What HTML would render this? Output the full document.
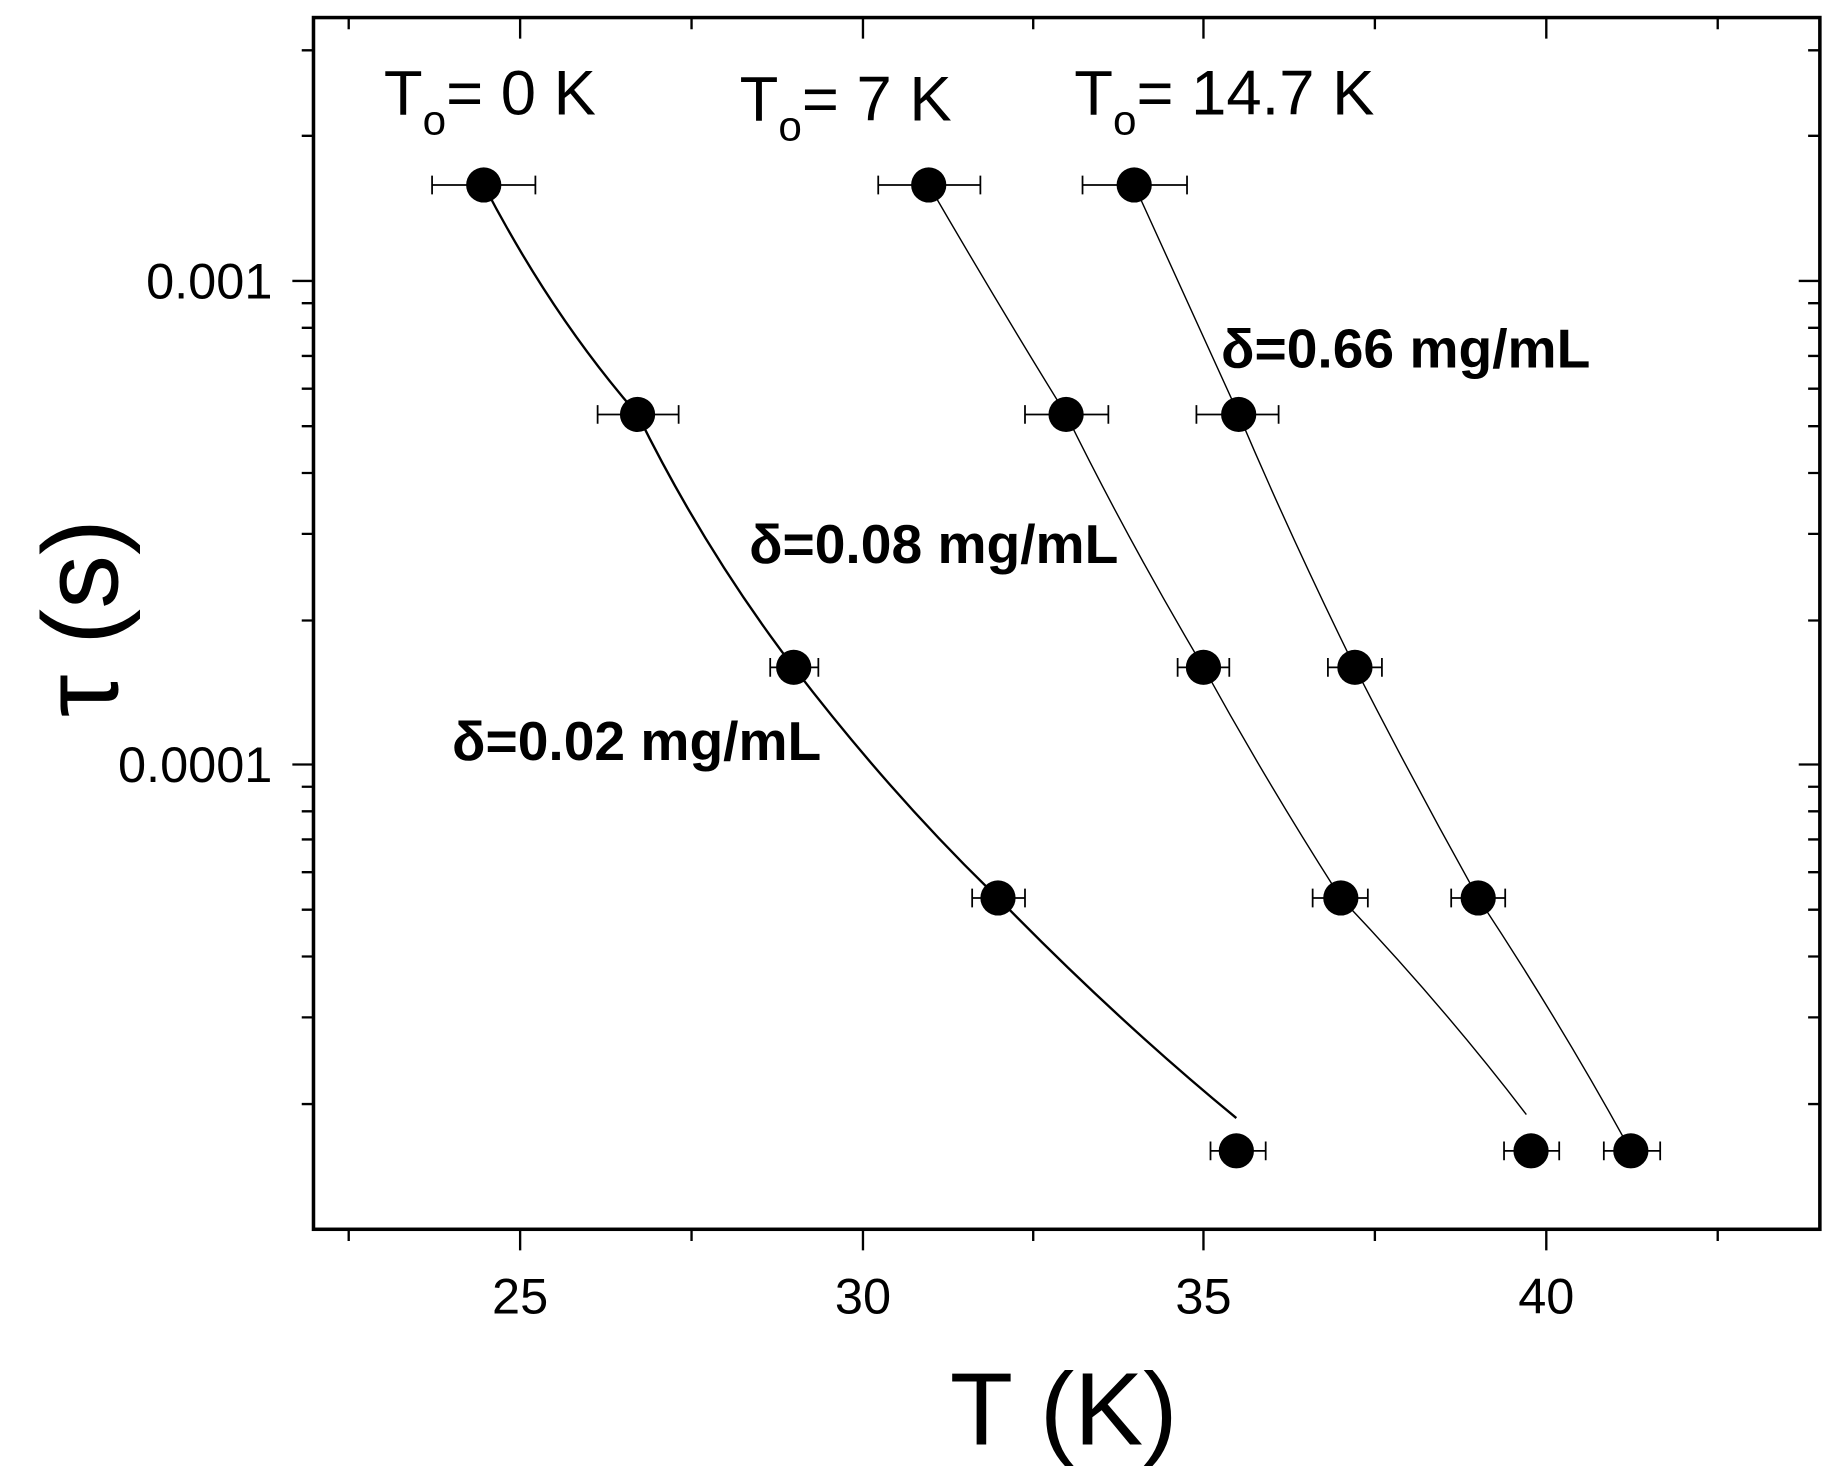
<!DOCTYPE html>
<html><head><style>html,body{margin:0;padding:0;background:#fff}svg{display:block}</style></head><body>
<svg width="1841" height="1481" viewBox="0 0 1568 1265" preserveAspectRatio="none" xmlns="http://www.w3.org/2000/svg" font-family="Liberation Sans, sans-serif">
<rect x="267" y="15" width="1283" height="1035" fill="none" stroke="#000" stroke-width="3"/>
<g stroke="#000" stroke-width="2">
<line x1="297" y1="1050" x2="297" y2="1060"/><line x1="443" y1="1050" x2="443" y2="1068"/>
<line x1="589" y1="1050" x2="589" y2="1060"/><line x1="735" y1="1050" x2="735" y2="1068"/>
<line x1="880" y1="1050" x2="880" y2="1060"/><line x1="1025" y1="1050" x2="1025" y2="1068"/>
<line x1="1171" y1="1050" x2="1171" y2="1060"/><line x1="1317" y1="1050" x2="1317" y2="1068"/>
<line x1="1463" y1="1050" x2="1463" y2="1060"/>
<line x1="297" y1="15" x2="297" y2="25"/><line x1="443" y1="15" x2="443" y2="33"/>
<line x1="589" y1="15" x2="589" y2="25"/><line x1="735" y1="15" x2="735" y2="33"/>
<line x1="880" y1="15" x2="880" y2="25"/><line x1="1025" y1="15" x2="1025" y2="33"/>
<line x1="1171" y1="15" x2="1171" y2="25"/><line x1="1317" y1="15" x2="1317" y2="33"/>
<line x1="1463" y1="15" x2="1463" y2="25"/>
<line x1="249" y1="240" x2="267" y2="240"/><line x1="249" y1="653" x2="267" y2="653"/>
<line x1="1532" y1="240" x2="1550" y2="240"/><line x1="1532" y1="653" x2="1550" y2="653"/>
</g>
<g stroke="#000" stroke-width="2">
<path d="M257 43H267M257 116H267M257 259H267M257 280H267M257 304H267M257 332H267M257 364H267M257 404H267M257 456H267M257 530H267M257 672H267M257 693H267M257 717H267M257 745H267M257 777H267M257 817H267M257 869H267M257 943H267"/>
<path d="M1540 43H1550M1540 116H1550M1540 259H1550M1540 280H1550M1540 304H1550M1540 332H1550M1540 364H1550M1540 404H1550M1540 456H1550M1540 530H1550M1540 672H1550M1540 693H1550M1540 717H1550M1540 745H1550M1540 777H1550M1540 817H1550M1540 869H1550M1540 943H1550"/>
</g>
<g font-size="43" text-anchor="middle" fill="#000">
<text x="443" y="1122">25</text><text x="735" y="1122">30</text><text x="1025" y="1122">35</text><text x="1317" y="1122">40</text>
</g>
<g font-size="43" text-anchor="end"><text x="232" y="255">0.001</text><text x="232" y="668">0.0001</text></g>
<text x="906" y="1234" font-size="88" text-anchor="middle">T (K)</text>
<text transform="translate(100,528) rotate(-90)" font-size="92" text-anchor="middle">τ (s)</text>
<g fill="none" stroke="#000">
<path stroke-width="2" d="M412 158 Q470 270 543 354 Q600 470 676 570 Q760 680 850 767 Q950 870 1053 955"/>
<path stroke-width="1.2" d="M791 158 Q850 260 908 354 Q960 460 1025 570 Q1080 670 1142 767 Q1230 860 1300 952"/>
<path stroke-width="1.2" d="M966 158 Q1010 255 1055 354 Q1100 460 1154 570 Q1205 670 1259 767 Q1330 875 1389 983"/>
</g>
<g stroke="#000" stroke-width="1.5" fill="none">
<path d="M368 158H456M368 150V166M456 150V166 M509 354H578M509 346V362M578 346V362 M656 570H697M656 562V578M697 562V578 M828 767H873M828 759V775M873 759V775 M1031 983H1078M1031 975V991M1078 975V991"/>
<path d="M748 158H835M748 150V166M835 150V166 M873 354H944M873 346V362M944 346V362 M1003 570H1047M1003 562V578M1047 562V578 M1118 767H1165M1118 759V775M1165 759V775 M1281 983H1328M1281 975V991M1328 975V991"/>
<path d="M922 158H1011M922 150V166M1011 150V166 M1019 354H1089M1019 346V362M1089 346V362 M1131 570H1177M1131 562V578M1177 562V578 M1236 767H1282M1236 759V775M1282 759V775 M1366 983H1414M1366 975V991M1414 975V991"/>
</g>
<g fill="#000">
<circle cx="412" cy="158" r="15"/><circle cx="543" cy="354" r="15"/><circle cx="676" cy="570" r="15"/><circle cx="850" cy="767" r="15"/><circle cx="1053" cy="983" r="15"/>
<circle cx="791" cy="158" r="15"/><circle cx="908" cy="354" r="15"/><circle cx="1025" cy="570" r="15"/><circle cx="1142" cy="767" r="15"/><circle cx="1304" cy="983" r="15"/>
<circle cx="966" cy="158" r="15"/><circle cx="1055" cy="354" r="15"/><circle cx="1154" cy="570" r="15"/><circle cx="1259" cy="767" r="15"/><circle cx="1389" cy="983" r="15"/>
</g>
<g font-size="54">
<text x="327" y="98">T<tspan font-size="36" dy="17">o</tspan><tspan dy="-17">= 0 K</tspan></text>
<text x="630" y="103">T<tspan font-size="36" dy="17">o</tspan><tspan dy="-17">= 7 K</tspan></text>
<text x="915" y="98">T<tspan font-size="36" dy="17">o</tspan><tspan dy="-17">= 14.7 K</tspan></text>
</g>
<g font-size="47" font-weight="bold">
<text x="1040" y="314">δ=0.66 mg/mL</text>
<text x="638" y="481">δ=0.08 mg/mL</text>
<text x="385" y="649">δ=0.02 mg/mL</text>
</g>
</svg>
</body></html>
